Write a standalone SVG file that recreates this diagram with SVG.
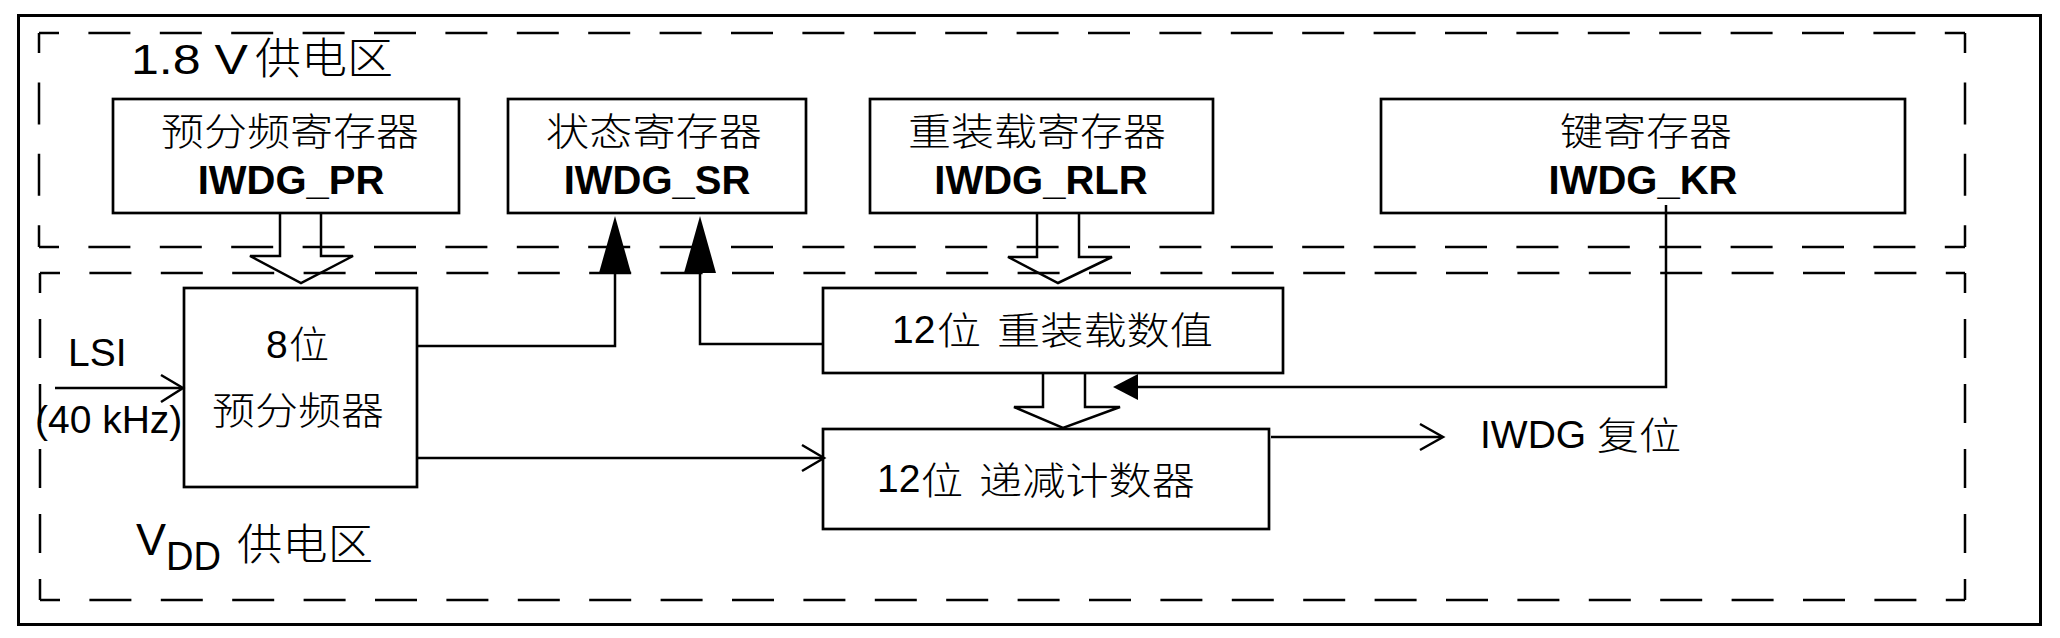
<svg xmlns="http://www.w3.org/2000/svg" width="2060" height="638" viewBox="0 0 2060 638">
<style>
.frame{fill:none;stroke:#000;stroke-width:3}
.box{fill:#fff;stroke:#000;stroke-width:2.7}
.dh{fill:none;stroke:#000;stroke-width:2.5;stroke-dasharray:42 29.4;stroke-dashoffset:22}
.dv1{fill:none;stroke:#000;stroke-width:2.5;stroke-dasharray:42 29.4;stroke-dashoffset:22}
.dv2{fill:none;stroke:#000;stroke-width:2.5;stroke-dasharray:39 26;stroke-dashoffset:19}
.ln{fill:none;stroke:#000;stroke-width:2.5}
.hol{fill:none;stroke:#000;stroke-width:2.5;stroke-linejoin:miter}
.fh{fill:#000;stroke:none}
.cj{font-family:"Noto Sans CJK SC","Noto Sans CJK TC",sans-serif;font-size:38px;font-weight:300;fill:#000}
.lt{font-family:"Liberation Sans",Arial,sans-serif;font-size:39px;fill:#000}
.bd{font-family:"Liberation Sans",Arial,sans-serif;font-size:40px;font-weight:bold;text-anchor:middle;fill:#000}
</style>
<rect x="0" y="0" width="2060" height="638" fill="#fff"/>
<rect class="frame" x="18.5" y="15.5" width="2022" height="609"/>

<g id="region-1v8">
<line class="dh" x1="39" y1="33" x2="1965" y2="33"/>
<line class="dh" x1="39" y1="247" x2="1965" y2="247"/>
<line class="dv1" x1="39" y1="33" x2="39" y2="247"/>
<line class="dv1" x1="1965" y1="33" x2="1965" y2="247"/>
<text class="lt" x="131" y="74" textLength="117" lengthAdjust="spacingAndGlyphs" style="font-size:43px">1.8 V</text>
<text class="cj" x="255" y="74" textLength="138" lengthAdjust="spacingAndGlyphs" style="font-size:43px">供电区</text>
</g>

<g id="region-vdd">
<line class="dh" x1="40" y1="273" x2="1965" y2="273"/>
<line class="dh" x1="40" y1="600" x2="1965" y2="600"/>
<line class="dv2" x1="40" y1="273" x2="40" y2="600"/>
<line class="dv2" x1="1965" y1="273" x2="1965" y2="600"/>
<text class="lt" x="136" y="555" style="font-size:45px">V</text>
<text class="lt" x="166" y="570" textLength="55" lengthAdjust="spacingAndGlyphs" style="font-size:41px">DD</text>
<text class="cj" x="237" y="560" textLength="136" lengthAdjust="spacingAndGlyphs" style="font-size:43px">供电区</text>
</g>

<g id="node-pr">
<rect class="box" x="113" y="99" width="346" height="114"/>
<text class="cj" x="161" y="145" textLength="258" lengthAdjust="spacingAndGlyphs">预分频寄存器</text>
<text class="bd" x="291" y="194">IWDG_PR</text>
</g>

<g id="node-sr">
<rect class="box" x="508" y="99" width="298" height="114"/>
<text class="cj" x="546" y="145" textLength="216" lengthAdjust="spacingAndGlyphs">状态寄存器</text>
<text class="bd" x="657" y="194">IWDG_SR</text>
</g>

<g id="node-rlr">
<rect class="box" x="870" y="99" width="343" height="114"/>
<text class="cj" x="908" y="145" textLength="258" lengthAdjust="spacingAndGlyphs">重装载寄存器</text>
<text class="bd" x="1041" y="194">IWDG_RLR</text>
</g>

<g id="node-kr">
<rect class="box" x="1381" y="99" width="524" height="114"/>
<text class="cj" x="1560" y="145" textLength="172" lengthAdjust="spacingAndGlyphs">键寄存器</text>
<text class="bd" x="1643" y="194">IWDG_KR</text>
</g>

<g id="node-prescaler">
<rect class="box" x="184" y="288" width="233" height="199"/>
<text class="lt" x="266" y="358">8</text>
<text class="cj" x="289" y="358" textLength="40" lengthAdjust="spacingAndGlyphs">位</text>
<text class="cj" x="212" y="424" textLength="172" lengthAdjust="spacingAndGlyphs">预分频器</text>
</g>

<g id="node-reload">
<rect class="box" x="823" y="288" width="460" height="85"/>
<text class="lt" x="892" y="343">12</text>
<text class="cj" x="937" y="344" textLength="44" lengthAdjust="spacingAndGlyphs">位</text>
<text class="cj" x="997" y="344" textLength="216" lengthAdjust="spacingAndGlyphs">重装载数值</text>
</g>

<g id="node-counter">
<rect class="box" x="823" y="429" width="446" height="100"/>
<text class="lt" x="877" y="492">12</text>
<text class="cj" x="921" y="494" textLength="42" lengthAdjust="spacingAndGlyphs">位</text>
<text class="cj" x="979" y="494" textLength="216" lengthAdjust="spacingAndGlyphs">递减计数器</text>
</g>

<g id="label-lsi">
<text class="lt" x="68" y="366">LSI</text>
<text class="lt" x="35" y="433">(40 kHz)</text>
</g>

<g id="label-reset">
<text class="lt" x="1480" y="448">IWDG</text>
<text class="cj" x="1597" y="449" textLength="84" lengthAdjust="spacingAndGlyphs">复位</text>
</g>

<g id="connectors">
<polyline class="hol" points="280,213 280,256 250,256 301,283 353,256 321,256 321,213"/>
<polyline class="hol" points="1037,213 1037,257 1008,257 1058,283 1112,257 1079,257 1079,213"/>
<polyline class="hol" points="1043,373 1043,407 1014,407 1063,428 1120,407 1085,407 1085,373"/>
<polyline class="ln" points="417,346 615,346 615,272"/>
<polygon class="fh" points="615,216 599,273 631,273"/>
<polyline class="ln" points="823,344 700,344 700,272"/>
<polygon class="fh" points="700,216 684,273 716,273"/>
<polyline class="ln" points="1666,205 1666,387 1136,387"/>
<polygon class="fh" points="1113,387 1138,374 1138,400"/>
<line class="ln" x1="55" y1="388" x2="182" y2="388"/>
<polyline class="ln" points="161,375 183,388 161,402"/>
<line class="ln" x1="417" y1="458" x2="822" y2="458"/>
<polyline class="ln" points="802,445 824,458 802,471"/>
<line class="ln" x1="1271" y1="437" x2="1442" y2="437"/>
<polyline class="ln" points="1420,424 1443,437 1420,450"/>
</g>
</svg>
